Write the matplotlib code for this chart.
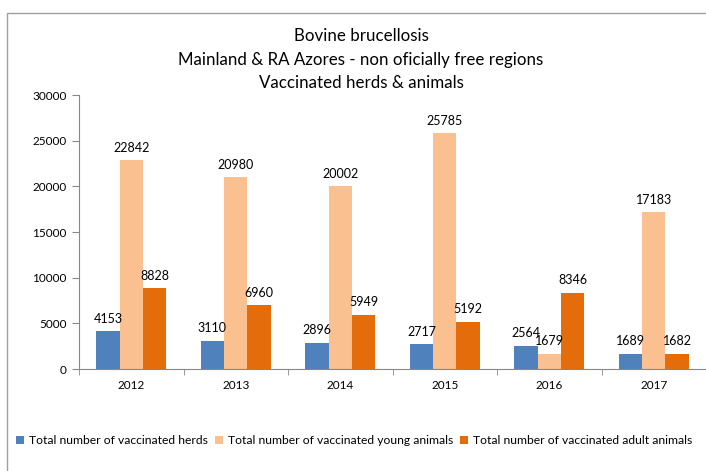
import matplotlib.pyplot as plt
import numpy as np
from matplotlib.patches import Rectangle

plt.rcParams['font.family'] = ['Lato', 'DejaVu Sans']

years = ['2012', '2013', '2014', '2015', '2016', '2017']
herds = [4153, 3110, 2896, 2717, 2564, 1689]
young = [22842, 20980, 20002, 25785, 1679, 17183]
adult = [8828, 6960, 5949, 5192, 8346, 1682]

labels = ['Total number of vaccinated herds',
          'Total number of vaccinated young animals',
          'Total number of vaccinated adult animals']
colors = ['#4F81BD', '#FAC090', '#E46C0A']

fig = plt.figure(figsize=(7.06, 4.71), dpi=100)
ax = fig.add_axes([79/706, 1 - 369/471, 627/706, 274/471])

x = np.arange(len(years))
w = 0.223
for i, (vals, c, lab) in enumerate(zip([herds, young, adult], colors, labels)):
    pos = x + (i - 1) * w
    ax.bar(pos, vals, w, color=c, label=lab)
    for p, v in zip(pos, vals):
        ax.text(p, v + 700, str(v), ha='center', va='bottom', fontsize=9)

ax.set_xlim(-0.5, len(years) - 0.5)
ax.set_ylim(0, 30000)
ax.set_yticks(np.arange(0, 30001, 5000))
ax.set_xticks(x)
ax.set_xticklabels(years)
ax.set_xticks(np.arange(-0.5, len(years)), minor=True)
ax.tick_params(axis='x', which='major', length=0, labelsize=8.5, pad=8)
ax.tick_params(axis='x', which='minor', length=4, color='#888888')
ax.tick_params(axis='y', length=5, color='#888888', labelsize=8.5, pad=4)
for s in ['top', 'right']:
    ax.spines[s].set_visible(False)
for s in ['left', 'bottom']:
    ax.spines[s].set_color('#888888')

cx = 361/706
fig.text(cx, 1 - 36/471, 'Bovine brucellosis', ha='center', va='center', fontsize=12.2)
fig.text(cx, 1 - 60/471, 'Mainland & RA Azores - non oficially free regions', ha='center', va='center', fontsize=12.2)
fig.text(cx, 1 - 83/471, 'Vaccinated herds & animals', ha='center', va='center', fontsize=12.2)

fig.legend(loc='center left', bbox_to_anchor=(16/706, 1 - 441/471), ncol=3, frameon=False,
           fontsize=8.7, handlelength=0.65, handleheight=0.65, handletextpad=0.4,
           columnspacing=0.6, borderaxespad=0, borderpad=0)

fig.patches.append(Rectangle((7/706, -0.1), 1.2, 1 - 13/471 + 0.1, transform=fig.transFigure,
                             fill=False, edgecolor='#A0A0A0', linewidth=1))

fig.savefig('out.png', dpi=100)
